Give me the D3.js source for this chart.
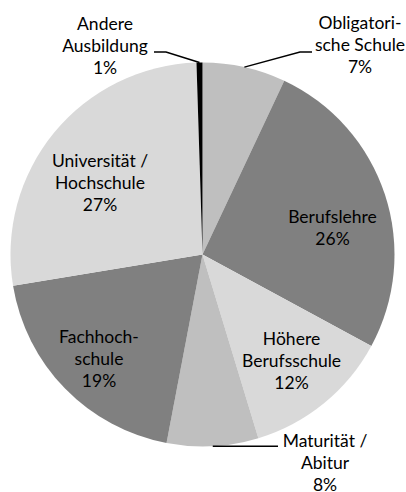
<!DOCTYPE html>
<html>
<head>
<meta charset="utf-8">
<script src="https://cdn.jsdelivr.net/npm/d3@7"></script>
<style>
  html, body { margin: 0; padding: 0; background: #fff; }
  svg { display: block; }
  text { font-family: Lato, "Open Sans", sans-serif; font-size: 17.5px; fill: #000; }
</style>
</head>
<body>
<svg id="chart" width="406" height="492"></svg>
<script>
// ---- data ----
const categories = [
  ["Obligatori-", "sche Schule"],
  ["Berufslehre"],
  ["Höhere", "Berufsschule"],
  ["Maturität /", "Abitur"],
  ["Fachhoch-", "schule"],
  ["Universität /", "Hochschule"],
  ["Andere", "Ausbildung"]
];
const values = [7.0, 25.9, 12.4, 7.7, 19.4, 27.1, 0.5];
const percentLabels = ["7%", "26%", "12%", "8%", "19%", "27%", "1%"];

// ---- layout ----
const colors = ["#bfbfbf", "#808080", "#d9d9d9", "#bfbfbf", "#808080", "#d9d9d9", "#000000"];
const cx = 202.5, cy = 254.5, radius = 192;
// label anchors: [x center, first baseline]
const labelPos = [
  [360, 29], [332.5, 223], [291.5, 345], [325, 447], [99, 343], [100, 167], [105, 30]
];
// leader lines: [elbow dx, elbow dy, end dx] relative to arc point
const leaders = {
  0: {elbow: [300, 52], end: [312, 52]},
  3: {elbow: null, end: [278, 446]},
  6: {elbow: [166, 52], end: [154, 52]}
};
const lineH = 22;

const svg = d3.select("#chart");
const g = svg.append("g").attr("transform", `translate(${cx},${cy})`);

const pie = d3.pie().sort(null).value(d => d);
const arcs = pie(values);
const arc = d3.arc().innerRadius(0).outerRadius(radius);

g.selectAll("path.slice")
  .data(arcs)
  .join("path")
  .attr("class", "slice")
  .attr("d", arc)
  .attr("fill", (d, i) => colors[i]);

// leader lines
Object.keys(leaders).forEach(k => {
  const i = +k;
  const a = (arcs[i].startAngle + arcs[i].endAngle) / 2;
  const p0 = [cx + radius * Math.sin(a), cy - radius * Math.cos(a)];
  const L = leaders[k];
  const pts = [p0];
  if (L.elbow) pts.push(L.elbow);
  pts.push([L.end[0], L.elbow ? L.end[1] : p0[1]]);
  svg.append("path")
    .attr("d", d3.line()(pts))
    .attr("fill", "none")
    .attr("stroke", "#000")
    .attr("stroke-width", 1.5);
});

// labels
categories.forEach((lines, i) => {
  const [x, y] = labelPos[i];
  const t = svg.append("text").attr("text-anchor", "middle");
  const all = lines.concat([percentLabels[i]]);
  all.forEach((s, j) => {
    t.append("tspan").attr("x", x).attr("y", y + j * lineH).text(s);
  });
});
</script>
</body>
</html>
